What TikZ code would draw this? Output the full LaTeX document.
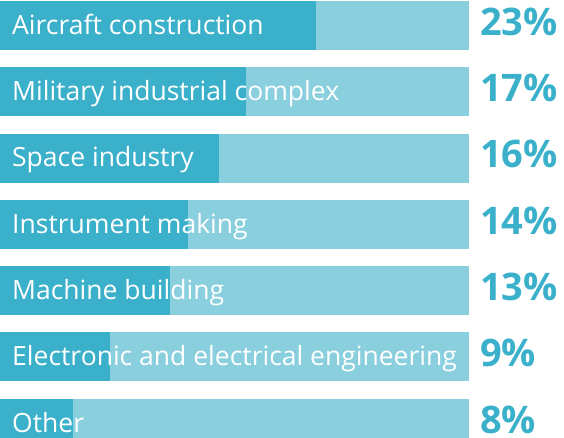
\documentclass[tikz,border=0pt]{standalone}
\usepackage{fontspec}
\setmainfont{Open Sans}
\definecolor{barDark}{HTML}{3BB0CA}
\definecolor{barLight}{HTML}{89CFDD}

\tikzstyle{bar} = [rectangle, anchor=north west, inner sep=0pt, minimum height=49pt, fill=barLight]
\tikzstyle{part} = [rectangle, anchor=north west, inner sep=0pt, minimum height=49pt, fill=barDark]
\tikzstyle{label} = [anchor=base west, inner sep=0pt, text=white, font=\fontsize{26.5}{26.5}\selectfont]
\tikzstyle{share} = [anchor=base west, inner sep=0pt, text=barDark, font=\fontsize{38}{38}\selectfont\bfseries]

\begin{document}
\begin{tikzpicture}[x=1pt, y=-1pt]
    \useasboundingbox (0,0) rectangle (564,437);
    \clip (0,0) rectangle (564,437);
    \node (b1) [bar, minimum width=469pt] at (0,1) {};
    \node (b2) [bar, minimum width=469pt] at (0,67) {};
    \node (b3) [bar, minimum width=469pt] at (0,133.5) {};
    \node (b4) [bar, minimum width=469pt] at (0,200) {};
    \node (b5) [bar, minimum width=469pt] at (0,266) {};
    \node (b6) [bar, minimum width=469pt] at (0,332) {};
    \node (b7) [bar, minimum width=469pt] at (0,399) {};
    \node (p1) [part, minimum width=316pt] at (0,1) {};
    \node (p2) [part, minimum width=246pt] at (0,67) {};
    \node (p3) [part, minimum width=219pt] at (0,133.5) {};
    \node (p4) [part, minimum width=188pt] at (0,200) {};
    \node (p5) [part, minimum width=170pt] at (0,266) {};
    \node (p6) [part, minimum width=110pt] at (0,332) {};
    \node (p7) [part, minimum width=73pt] at (0,399) {};
    \node (l1) [label] at (12,34) {Aircraft construction};
    \node (l2) [label] at (12,100) {Military industrial complex};
    \node (l3) [label] at (12,166.5) {Space industry};
    \node (l4) [label] at (12,233) {Instrument making};
    \node (l5) [label] at (12,299) {Machine building};
    \node (l6) [label] at (12,365) {Electronic and electrical engineering};
    \node (l7) [label] at (12,432) {Other};
    \node (s1) [share] at (480,35) {23\%};
    \node (s2) [share] at (480,101) {17\%};
    \node (s3) [share] at (480,167.5) {16\%};
    \node (s4) [share] at (480,234) {14\%};
    \node (s5) [share] at (480,300) {13\%};
    \node (s6) [share] at (480,366) {9\%};
    \node (s7) [share] at (480,433) {8\%};
\end{tikzpicture}
\end{document}
